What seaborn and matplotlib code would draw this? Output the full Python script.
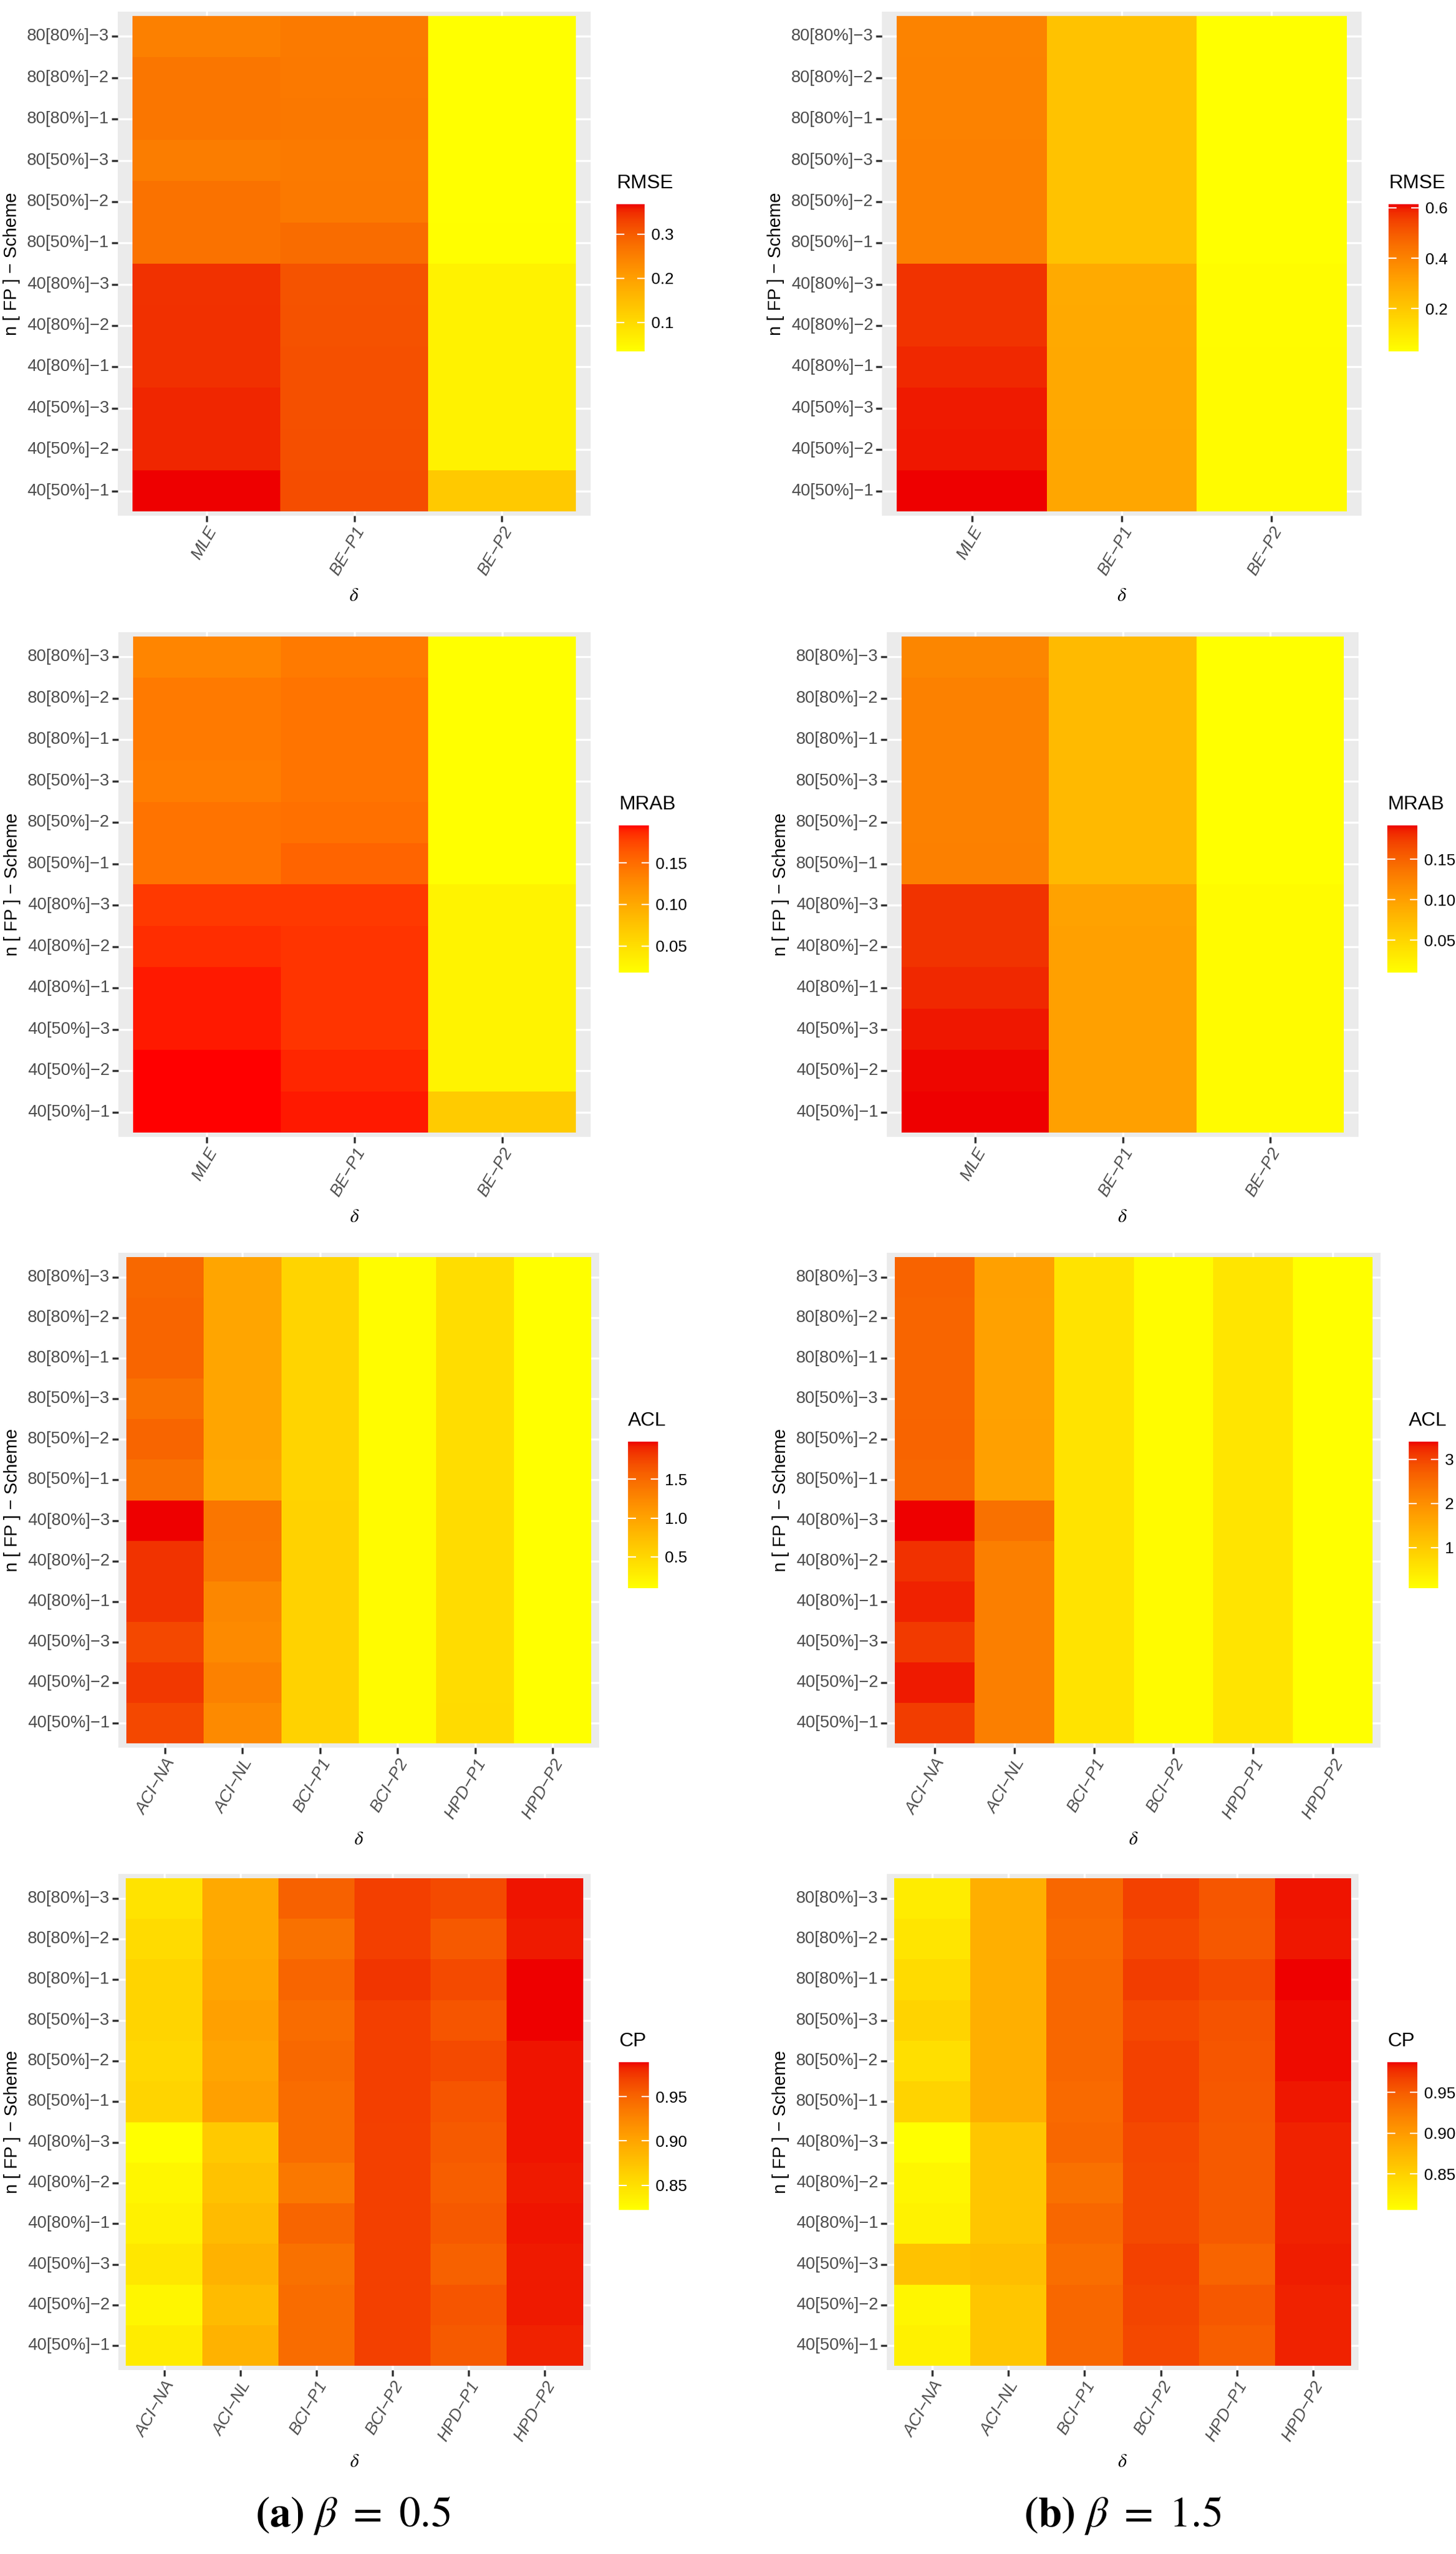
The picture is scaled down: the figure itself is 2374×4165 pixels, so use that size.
"""
Heatmaps of RMSE / MRAB / ACL / CP for two beta values
"""
import numpy as np
import pandas as pd
import matplotlib
matplotlib.use('Agg')
import matplotlib.pyplot as plt
import seaborn as sns
from matplotlib.colors import ListedColormap, to_rgb

# ---------------- data (rows listed top -> bottom as displayed) ----------------
schemes = ["80[80%]\u22123", "80[80%]\u22122", "80[80%]\u22121",
           "80[50%]\u22123", "80[50%]\u22122", "80[50%]\u22121",
           "40[80%]\u22123", "40[80%]\u22122", "40[80%]\u22121",
           "40[50%]\u22123", "40[50%]\u22122", "40[50%]\u22121"]
est_cols = ["MLE", "BE\u2212P1", "BE\u2212P2"]
ci_cols = ["ACI\u2212NA", "ACI\u2212NL", "BCI\u2212P1", "BCI\u2212P2", "HPD\u2212P1", "HPD\u2212P2"]

# RMSE, beta = 0.5
rmse_a_mle = [0.248, 0.264, 0.264, 0.254, 0.271, 0.271, 0.345, 0.346, 0.346, 0.353, 0.353, 0.368]
rmse_a_p1 = [0.258, 0.261, 0.262, 0.258, 0.261, 0.278, 0.311, 0.312, 0.315, 0.315, 0.316, 0.318]
rmse_a_p2 = [0.034, 0.034, 0.034, 0.035, 0.035, 0.036, 0.057, 0.057, 0.057, 0.057, 0.057, 0.128]
# RMSE, beta = 1.5
rmse_b_mle = [0.398, 0.402, 0.402, 0.405, 0.405, 0.405, 0.573, 0.573, 0.585, 0.599, 0.602, 0.614]
rmse_b_p1 = [0.216, 0.217, 0.218, 0.218, 0.219, 0.220, 0.290, 0.292, 0.293, 0.294, 0.296, 0.300]
rmse_b_p2 = [0.031, 0.031, 0.031, 0.031, 0.032, 0.032, 0.042, 0.042, 0.043, 0.043, 0.043, 0.044]

# MRAB
mrab_a_mle = [0.131, 0.140, 0.140, 0.137, 0.145, 0.145, 0.181, 0.186, 0.191, 0.191, 0.195, 0.195]
mrab_a_p1 = [0.140, 0.144, 0.144, 0.144, 0.147, 0.156, 0.181, 0.183, 0.183, 0.183, 0.188, 0.191]
mrab_a_p2 = [0.018, 0.018, 0.018, 0.018, 0.018, 0.018, 0.030, 0.030, 0.030, 0.030, 0.030, 0.068]
mrab_b_mle = [0.123, 0.126, 0.126, 0.126, 0.126, 0.127, 0.179, 0.179, 0.183, 0.188, 0.191, 0.192]
mrab_b_p1 = [0.076, 0.076, 0.076, 0.077, 0.077, 0.077, 0.098, 0.099, 0.099, 0.099, 0.099, 0.100]
mrab_b_p2 = [0.010, 0.010, 0.010, 0.010, 0.010, 0.010, 0.014, 0.014, 0.014, 0.014, 0.014, 0.014]

# ACL
acl_a_acina = [1.51, 1.53, 1.53, 1.44, 1.53, 1.44, 1.985, 1.85, 1.85, 1.74, 1.83, 1.74]
acl_a_acinl = [0.975, 0.975, 0.975, 0.975, 0.975, 0.946, 1.40, 1.38, 1.25, 1.23, 1.30, 1.23]
acl_a_bcip1 = [0.53, 0.53, 0.53, 0.53, 0.53, 0.53, 0.54, 0.54, 0.54, 0.54, 0.54, 0.55]
acl_a_bcip2 = [0.13, 0.13, 0.13, 0.13, 0.13, 0.13, 0.14, 0.14, 0.14, 0.14, 0.14, 0.14]
acl_a_hpdp1 = [0.44, 0.44, 0.44, 0.44, 0.44, 0.44, 0.45, 0.45, 0.45, 0.45, 0.45, 0.46]
acl_a_hpdp2 = [0.096, 0.096, 0.096, 0.096, 0.096, 0.096, 0.10, 0.10, 0.10, 0.10, 0.10, 0.10]
acl_b_acina = [2.63, 2.60, 2.60, 2.60, 2.62, 2.58, 3.40, 3.17, 3.28, 3.10, 3.32, 3.07]
acl_b_acinl = [1.70, 1.69, 1.69, 1.69, 1.70, 1.69, 2.44, 2.24, 2.24, 2.24, 2.24, 2.24]
acl_b_bcip1 = [0.57, 0.57, 0.57, 0.57, 0.57, 0.57, 0.58, 0.58, 0.58, 0.58, 0.58, 0.58]
acl_b_bcip2 = [0.14, 0.14, 0.14, 0.14, 0.14, 0.14, 0.15, 0.15, 0.15, 0.15, 0.15, 0.15]
acl_b_hpdp1 = [0.54, 0.54, 0.54, 0.54, 0.54, 0.54, 0.55, 0.55, 0.55, 0.55, 0.55, 0.55]
acl_b_hpdp2 = [0.076, 0.076, 0.076, 0.076, 0.076, 0.076, 0.08, 0.08, 0.08, 0.08, 0.08, 0.08]

# CP
cp_a_acina = [0.847, 0.854, 0.860, 0.860, 0.857, 0.860, 0.822, 0.830, 0.835, 0.844, 0.830, 0.839]
cp_a_acinl = [0.897, 0.897, 0.900, 0.904, 0.900, 0.904, 0.869, 0.875, 0.882, 0.889, 0.882, 0.889]
cp_a_bcip1 = [0.952, 0.941, 0.949, 0.944, 0.947, 0.944, 0.944, 0.936, 0.949, 0.941, 0.944, 0.944]
cp_a_bcip2 = [0.972, 0.972, 0.976, 0.972, 0.972, 0.972, 0.971, 0.971, 0.971, 0.971, 0.971, 0.971]
cp_a_hpdp1 = [0.966, 0.957, 0.966, 0.959, 0.966, 0.959, 0.956, 0.954, 0.957, 0.952, 0.959, 0.956]
cp_a_hpdp2 = [0.986, 0.985, 0.989, 0.989, 0.986, 0.986, 0.986, 0.985, 0.986, 0.985, 0.985, 0.983]
cp_b_acina = [0.824, 0.831, 0.840, 0.848, 0.837, 0.848, 0.806, 0.815, 0.819, 0.864, 0.815, 0.820]
cp_b_acinl = [0.882, 0.882, 0.882, 0.882, 0.882, 0.882, 0.860, 0.860, 0.860, 0.868, 0.860, 0.860]
cp_b_bcip1 = [0.942, 0.940, 0.942, 0.942, 0.942, 0.940, 0.942, 0.935, 0.942, 0.937, 0.942, 0.942]
cp_b_bcip2 = [0.967, 0.963, 0.969, 0.963, 0.967, 0.967, 0.963, 0.962, 0.962, 0.967, 0.965, 0.963]
cp_b_hpdp1 = [0.954, 0.953, 0.962, 0.956, 0.954, 0.953, 0.951, 0.951, 0.951, 0.944, 0.953, 0.949]
cp_b_hpdp2 = [0.984, 0.983, 0.987, 0.985, 0.985, 0.983, 0.980, 0.980, 0.980, 0.982, 0.980, 0.980]

# ---------------- style ----------------
W, H = 2374, 4165
plt.rcParams['font.family'] = ['Liberation Sans', 'DejaVu Sans']
plt.rcParams['mathtext.fontset'] = 'stix'
NARROW = ['Liberation Sans Narrow', 'Liberation Sans', 'DejaVu Sans']
GREY_TXT = '#4D4D4D'

M_RGB = np.array([[0.4124, 0.3576, 0.1805], [0.2126, 0.7152, 0.0722], [0.0193, 0.1192, 0.9505]])
WHITE = np.array([0.95047, 1.0, 1.08883])


def _srgb_to_lab(c):
    c = np.asarray(c, float)
    lin = np.where(c <= 0.04045, c / 12.92, ((c + 0.055) / 1.055) ** 2.4)
    xyz = M_RGB @ lin / WHITE
    f = np.where(xyz > 0.008856, np.cbrt(xyz), 7.787 * xyz + 16 / 116)
    return np.array([116 * f[1] - 16, 500 * (f[0] - f[1]), 200 * (f[1] - f[2])])


def _lab_to_srgb(lab):
    fy = (lab[0] + 16) / 116
    f = np.array([fy + lab[1] / 500, fy, fy - lab[2] / 200])
    xyz = np.where(f ** 3 > 0.008856, f ** 3, (f - 16 / 116) / 7.787) * WHITE
    lin = np.clip(np.linalg.inv(M_RGB) @ xyz, 0, 1)
    return np.clip(np.where(lin <= 0.0031308, 12.92 * lin, 1.055 * lin ** (1 / 2.4) - 0.055), 0, 1)


def lab_gradient(low, high, n=256):
    """ggplot-like gradient, interpolated in CIELAB"""
    a, b = _srgb_to_lab(to_rgb(low)), _srgb_to_lab(to_rgb(high))
    return ListedColormap([_lab_to_srgb(a + (b - a) * t) for t in np.linspace(0, 1, n)])


def px_box(x0, y0, x1, y1):
    return [x0 / W, 1 - y1 / H, (x1 - x0) / W, (y1 - y0) / H]


def draw_panel(fig, box, cbox, df, title, ticks, labels, high):
    ax = fig.add_axes(px_box(*box))
    cax = fig.add_axes(px_box(*cbox))
    cmap = lab_gradient('#FFFF00', high)
    vals = df.values
    sns.heatmap(df, ax=ax, cmap=cmap, vmin=vals.min(), vmax=vals.max(),
                cbar_ax=cax, xticklabels=True, yticklabels=True)
    ncol = df.shape[1]
    ax.set_xlim(-0.1, ncol + 0.1)
    ax.set_ylim(df.shape[0] + 0.1, -0.1)
    ax.set_facecolor('#EBEBEB')
    ax.set_axisbelow(True)
    ax.grid(True, color='white', linewidth=2.4)
    for s in ax.spines.values():
        s.set_visible(False)

    ax.tick_params(axis='both', length=7, width=2.5, color='#333333', pad=3)
    ax.set_yticklabels(df.index, rotation=0, fontsize=20, color=GREY_TXT,
                       family=NARROW)
    ax.set_xticklabels(df.columns, rotation=60, ha='right', va='top',
                       rotation_mode='anchor', fontsize=20, color=GREY_TXT,
                       family=NARROW, style='italic')
    ax.set_ylabel("n [ FP ] \u2212 Scheme", fontsize=21, labelpad=8)
    ax.set_xlabel(r"$\delta$", fontsize=22, labelpad=10)

    cbar = ax.collections[0].colorbar
    cbar.outline.set_visible(False)
    cbar.set_ticks(ticks)
    cbar.set_ticklabels(labels)
    cbar.ax.tick_params(left=True, right=True, labelleft=False, labelright=True,
                        direction='in', color='white', length=9, width=1.5,
                        labelsize=19, pad=8)
    for lbl in cbar.ax.get_yticklabels():
        lbl.set_fontfamily(NARROW)
    cax.text(0, 1.08, title, transform=cax.transAxes, ha='left', va='bottom',
             fontsize=23, family=NARROW)
    return ax


def frame(cols, arrays):
    return pd.DataFrame(np.column_stack(arrays), index=schemes, columns=cols)


panels = [
    # (grey panel box, colorbar box, frame, title, ticks, labels, high colour)
    ((192, 19, 963, 841), (1005, 333, 1051, 573),
     frame(est_cols, [rmse_a_mle, rmse_a_p1, rmse_a_p2]), "RMSE",
     [0.1, 0.2, 0.3], ["0.1", "0.2", "0.3"], '#EE0000'),
    ((1438, 19, 2220, 841), (2264, 333, 2313, 573),
     frame(est_cols, [rmse_b_mle, rmse_b_p1, rmse_b_p2]), "RMSE",
     [0.2, 0.4, 0.6], ["0.2", "0.4", "0.6"], '#EE0000'),
    ((193, 1031, 963, 1854), (1009, 1346, 1058, 1586),
     frame(est_cols, [mrab_a_mle, mrab_a_p1, mrab_a_p2]), "MRAB",
     [0.05, 0.10, 0.15], ["0.05", "0.10", "0.15"], '#FF0000'),
    ((1446, 1031, 2215, 1854), (2262, 1346, 2311, 1586),
     frame(est_cols, [mrab_b_mle, mrab_b_p1, mrab_b_p2]), "MRAB",
     [0.05, 0.10, 0.15], ["0.05", "0.10", "0.15"], '#EE0000'),
    ((193, 2043, 977, 2850), (1024, 2351, 1073, 2590),
     frame(ci_cols, [acl_a_acina, acl_a_acinl, acl_a_bcip1, acl_a_bcip2, acl_a_hpdp1, acl_a_hpdp2]),
     "ACL", [0.5, 1.0, 1.5], ["0.5", "1.0", "1.5"], '#EE0000'),
    ((1446, 2043, 2251, 2850), (2297, 2351, 2345, 2590),
     frame(ci_cols, [acl_b_acina, acl_b_acinl, acl_b_bcip1, acl_b_bcip2, acl_b_hpdp1, acl_b_hpdp2]),
     "ACL", [1, 2, 3], ["1", "2", "3"], '#EE0000'),
    ((193, 3056, 963, 3865), (1009, 3363, 1058, 3604),
     frame(ci_cols, [cp_a_acina, cp_a_acinl, cp_a_bcip1, cp_a_bcip2, cp_a_hpdp1, cp_a_hpdp2]),
     "CP", [0.85, 0.90, 0.95], ["0.85", "0.90", "0.95"], '#EE0000'),
    ((1446, 3056, 2215, 3865), (2262, 3363, 2311, 3604),
     frame(ci_cols, [cp_b_acina, cp_b_acinl, cp_b_bcip1, cp_b_bcip2, cp_b_hpdp1, cp_b_hpdp2]),
     "CP", [0.85, 0.90, 0.95], ["0.85", "0.90", "0.95"], '#EE0000'),
]

fig = plt.figure(figsize=(W / 100, H / 100), dpi=100, facecolor='white')
for box, cbox, df, title, ticks, labels, high in panels:
    draw_panel(fig, box, cbox, df, title, ticks, labels, high)

fig.text(575 / W, 1 - 4103 / H, r"$\mathbf{(a)}\ \beta\ =\ 0.5$",
         ha='center', va='center', fontsize=50)
fig.text(1830 / W, 1 - 4103 / H, r"$\mathbf{(b)}\ \beta\ =\ 1.5$",
         ha='center', va='center', fontsize=50)

fig.savefig('out.png', dpi=100, facecolor='white')
